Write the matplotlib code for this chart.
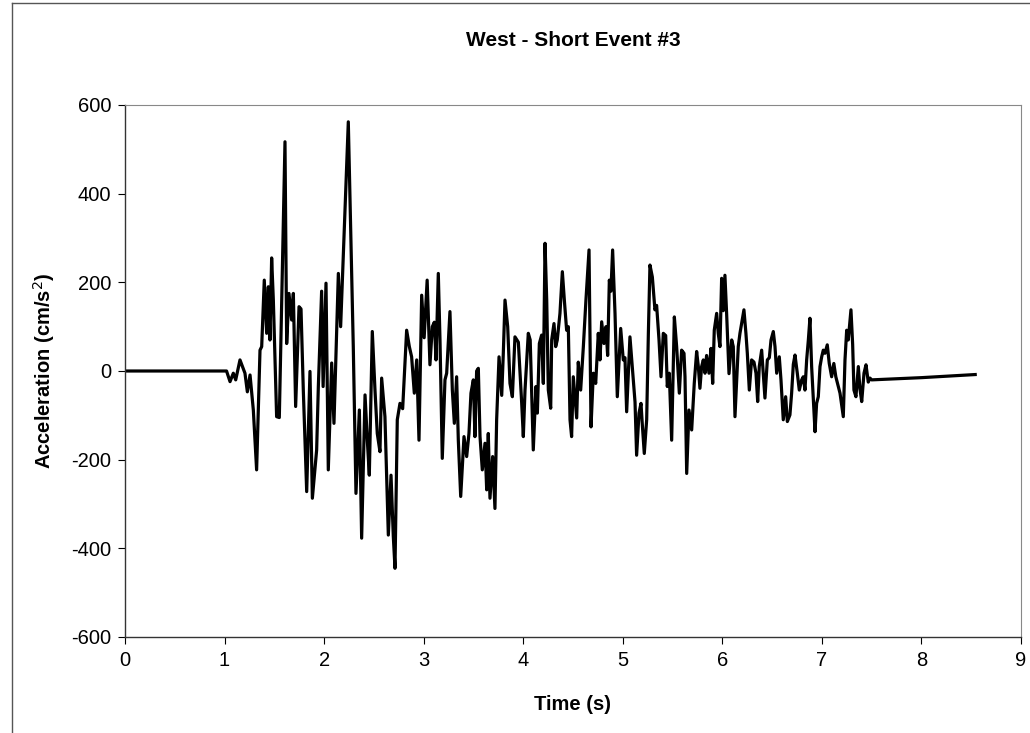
import matplotlib
matplotlib.use("Agg")
import matplotlib.pyplot as plt
from matplotlib.lines import Line2D

plt.rcParams['font.family'] = ['Liberation Sans', 'DejaVu Sans']
plt.rcParams['axes.unicode_minus'] = False

# West - Short Event #3
time_s = [
    0.0, 1.02, 1.055, 1.088, 1.112, 1.155, 1.205, 1.229, 1.256, 1.289,
    1.322, 1.356, 1.373, 1.399, 1.423, 1.44, 1.456, 1.473, 1.49, 1.523,
    1.55, 1.607, 1.624, 1.647, 1.674, 1.691, 1.714, 1.748, 1.768, 1.791,
    1.825, 1.858, 1.882, 1.925, 1.942, 1.975, 1.99, 2.019, 2.042, 2.076,
    2.099, 2.126, 2.143, 2.166, 2.243, 2.293, 2.32, 2.354, 2.377, 2.411,
    2.434, 2.454, 2.484, 2.511, 2.534, 2.561, 2.578, 2.611, 2.645, 2.672,
    2.695, 2.712, 2.735, 2.762, 2.789, 2.829, 2.856, 2.879, 2.906, 2.93,
    2.953, 2.98, 3.005, 3.035, 3.063, 3.087, 3.107, 3.124, 3.147, 3.164,
    3.187, 3.214, 3.231, 3.264, 3.288, 3.308, 3.331, 3.348, 3.372, 3.405,
    3.432, 3.455, 3.475, 3.499, 3.515, 3.532, 3.549, 3.566, 3.589, 3.616,
    3.633, 3.649, 3.666, 3.693, 3.716, 3.733, 3.757, 3.784, 3.8, 3.817,
    3.844, 3.867, 3.891, 3.917, 3.951, 3.984, 4.001, 4.018, 4.051, 4.07,
    4.101, 4.128, 4.142, 4.162, 4.185, 4.202, 4.219, 4.236, 4.252, 4.276,
    4.286, 4.309, 4.326, 4.342, 4.369, 4.393, 4.413, 4.436, 4.453, 4.47,
    4.486, 4.503, 4.537, 4.553, 4.577, 4.604, 4.63, 4.661, 4.681, 4.704,
    4.728, 4.754, 4.771, 4.788, 4.811, 4.831, 4.848, 4.865, 4.881, 4.898,
    4.922, 4.945, 4.979, 5.005, 5.022, 5.039, 5.072, 5.106, 5.123, 5.139,
    5.163, 5.183, 5.196, 5.216, 5.24, 5.257, 5.273, 5.297, 5.323, 5.34,
    5.364, 5.384, 5.407, 5.431, 5.447, 5.467, 5.491, 5.518, 5.541, 5.568,
    5.591, 5.615, 5.625, 5.642, 5.665, 5.692, 5.718, 5.742, 5.759, 5.775,
    5.792, 5.809, 5.826, 5.842, 5.866, 5.886, 5.903, 5.919, 5.943, 5.959,
    5.976, 5.993, 6.009, 6.026, 6.043, 6.067, 6.094, 6.11, 6.127, 6.16,
    6.177, 6.217, 6.237, 6.251, 6.271, 6.294, 6.318, 6.338, 6.355, 6.371,
    6.395, 6.411, 6.428, 6.452, 6.472, 6.489, 6.512, 6.529, 6.546, 6.572,
    6.589, 6.612, 6.636, 6.653, 6.679, 6.696, 6.713, 6.73, 6.753, 6.773,
    6.797, 6.813, 6.83, 6.847, 6.864, 6.88, 6.897, 6.914, 6.931, 6.947,
    6.964, 6.981, 6.998, 7.014, 7.031, 7.054, 7.074, 7.098, 7.12, 7.14,
    7.165, 7.182, 7.215, 7.232, 7.249, 7.265, 7.292, 7.309, 7.322, 7.342,
    7.366, 7.382, 7.4, 7.423, 7.443, 7.466, 7.483, 7.5, 8.0, 8.54,
]
accel = [
    0, 0, -24, -5, -20, 25, -5, -47, -9, -88,
    -223, 47, 55, 205, 85, 190, 70, 255, 160, -103,
    -105, 517, 62, 175, 115, 175, -80, 145, 140, -43,
    -272, -1, -287, -178, -35, 180, -35, 198, -223, 18,
    -118, 92, 220, 100, 562, 55, -276, -88, -377, -54,
    -156, -235, 89, -43, -141, -182, -16, -103, -370, -235,
    -373, -445, -110, -73, -85, 92, 55, 32, -50, 25,
    -156, 171, 75, 205, 14, 100, 110, 25, 220, 70,
    -197, -20, -5, 134, -43, -118, -13, -156, -283, -148,
    -193, -141, -50, -20, -148, 0, 6, -148, -223, -163,
    -268, -141, -287, -193, -310, -110, 32, -55, 40, 160,
    100, -28, -58, 77, 65, -70, -148, -43, 85, 70,
    -178, -35, -95, 62, 81, -28, 288, 160, -43, -84,
    70, 107, 55, 70, 130, 224, 160, 92, 100, -110,
    -148, -13, -106, 20, -43, 55, 160, 273, -126, -5,
    -28, 85, 25, 111, 62, 100, 35, 205, 180, 273,
    130, -58, 96, 25, 30, -92, 77, -20, -70, -190,
    -95, -73, -120, -186, -110, 85, 239, 212, 138, 148,
    70, -13, 85, 80, -35, -5, -156, 122, 55, -50,
    47, 40, -13, -231, -88, -133, -28, 44, 10, -39,
    10, 25, -5, 35, -5, 51, -28, 92, 130, 85,
    55, 209, 136, 216, 130, -6, 70, 55, -103, 55,
    85, 138, 85, 40, -43, 25, 20, -5, -69, 10,
    47, -5, -61, 25, 30, 70, 89, 55, -5, 32,
    -20, -110, -58, -114, -99, -50, 15, 36, -5, -43,
    -20, -13, -43, 25, 70, 119, 10, -65, -137, -73,
    -58, 10, 32, 47, 40, 59, 17, -13, 17, -13,
    -35, -50, -103, 25, 92, 70, 138, 60, -43, -58,
    10, -40, -69, -5, 14, -25, -16, -20, -15, -8,
]

x_ticks = [0, 1, 2, 3, 4, 5, 6, 7, 8, 9]
y_ticks = [-600, -400, -200, 0, 200, 400, 600]

fig = plt.figure(figsize=(10.30, 7.33), dpi=100)
ax = fig.add_axes([125 / 1030, 96 / 733, 896 / 1030, 532 / 733])

ax.plot(time_s, accel, color='black', linewidth=2.3, solid_joinstyle='round')

ax.set_xlim(0, 9)
ax.set_ylim(-600, 600)
ax.set_xticks(x_ticks)
ax.set_yticks(y_ticks)
ax.tick_params(direction='out', length=5, width=0.8, labelsize=14.5, pad=5)

for side in ['left', 'bottom']:
    ax.spines[side].set_color('#333333')
    ax.spines[side].set_linewidth(1.0)
for side in ['top', 'right']:
    ax.spines[side].set_color('#888888')
    ax.spines[side].set_linewidth(0.8)
    ax.spines[side].set_linestyle((0, (1, 1)))

fig.text(573 / 1030, 1 - 41 / 733, 'West - Short Event #3', ha='center', va='center',
         fontsize=15, fontweight='bold')
ax.set_xlabel('Time (s)', fontsize=14.5, fontweight='bold', labelpad=18)
ax.set_ylabel('Acceleration (cm/s$^2$)', fontsize=14.5, fontweight='bold', labelpad=10)

# outer chart border
fig.add_artist(Line2D([12 / 1030, 12 / 1030], [0, 1 - 3 / 733], color='#555555', lw=1.0))
fig.add_artist(Line2D([12 / 1030, 1], [1 - 3 / 733, 1 - 3 / 733], color='#555555', lw=1.0))

fig.savefig('out.png', dpi=100)
